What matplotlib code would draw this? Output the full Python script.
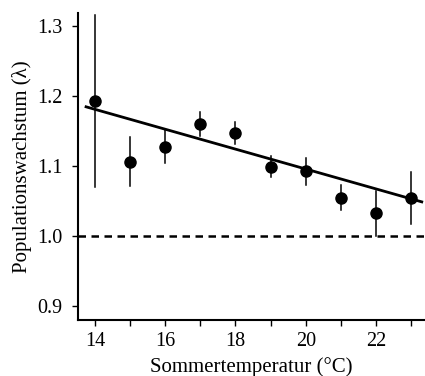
import matplotlib
matplotlib.use("Agg")
from matplotlib import pyplot as plt

plt.rcParams['font.family'] = ['Liberation Serif', 'DejaVu Serif']

temp = [14, 15, 16, 17, 18, 19, 20, 21, 22, 23]
lam = [1.194, 1.106, 1.128, 1.160, 1.148, 1.099, 1.093, 1.054, 1.033, 1.054]
err_lo = [1.070, 1.072, 1.105, 1.143, 1.132, 1.085, 1.073, 1.037, 1.000, 1.017]
err_hi = [1.317, 1.142, 1.152, 1.178, 1.163, 1.115, 1.112, 1.073, 1.065, 1.092]

# regression line endpoints
fit_x = [13.75, 23.3]
fit_y = [1.185, 1.049]

fig = plt.figure(figsize=(4.25, 3.76), dpi=100)
ax = fig.add_axes([0.1835, 0.149, 0.813, 0.816])

ax.axhline(1.0, color="black", linestyle=(0, (3, 2.2)), linewidth=1.8, zorder=1)
for x, lo, hi in zip(temp, err_lo, err_hi):
    ax.plot([x, x], [lo, hi], color="black", linewidth=1.1, zorder=2)
ax.plot(fit_x, fit_y, color="black", linewidth=2, zorder=3)
ax.plot(temp, lam, "o", color="black", markersize=8, zorder=4)

ax.set_xlim(13.52, 23.35)
ax.set_ylim(0.88, 1.319)
ax.set_xticks(temp)
ax.set_xticklabels([str(t) if t % 2 == 0 else "" for t in temp])
ax.set_yticks([0.9, 1.0, 1.1, 1.2, 1.3])
ax.set_yticklabels(["0.9", "1.0", "1.1", "1.2", "1.3"])

for s in ["top", "right"]:
    ax.spines[s].set_visible(False)
for s in ["left", "bottom"]:
    ax.spines[s].set_linewidth(1.5)
ax.tick_params(direction="out", length=4, width=1, labelsize=14.5)
ax.tick_params(axis="y", pad=7)
ax.tick_params(axis="x", pad=5)

ax.set_xlabel("Sommertemperatur (°C)", fontsize=15, labelpad=4)
ax.set_ylabel("Populationswachstum (λ)", fontsize=15, labelpad=4)

plt.savefig("out.png")
